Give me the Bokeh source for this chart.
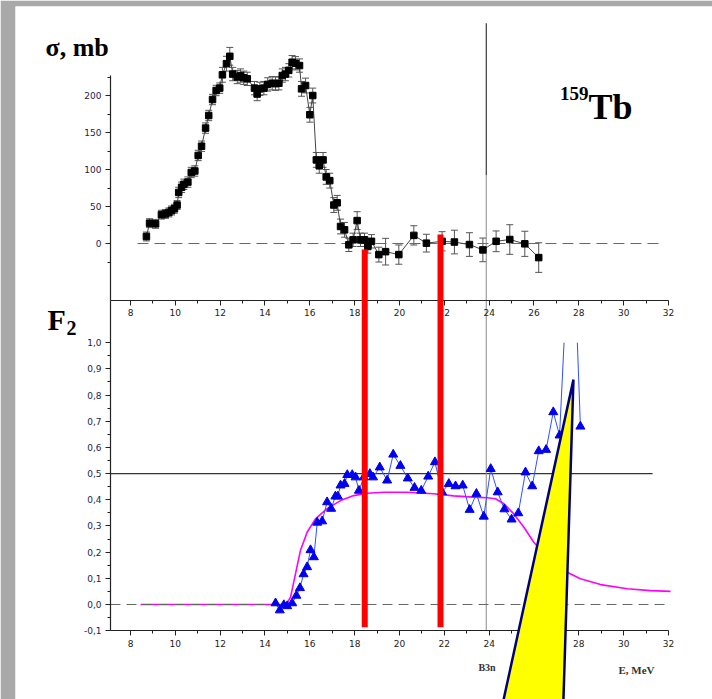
from bokeh.plotting import figure
from bokeh.models import (Range1d, LinearAxis, FixedTicker, CustomJSTickFormatter, Label,
                          ColumnDataSource, Whisker, TeeHead)
from bokeh.embed import file_html
from bokeh.resources import INLINE

# ---------------- data ----------------
# photoneutron cross section sigma(gamma, n), mb
sig_x = [8.71, 8.85, 9.12, 9.38, 9.56, 9.71, 9.83, 9.96, 10.08, 10.15, 10.28, 10.38, 10.56,
         10.71, 10.87, 11.02, 11.17, 11.35, 11.49, 11.66, 11.82, 11.98, 12.10, 12.28, 12.43,
         12.56, 12.76, 12.91, 13.05, 13.21, 13.53, 13.65, 13.77, 13.95, 14.12, 14.32, 14.47,
         14.62, 14.77, 14.91, 15.06, 15.21, 15.36, 15.54, 15.63, 15.81, 16.00, 16.13, 16.29,
         16.42, 16.59, 16.73, 16.89, 17.07, 17.22, 17.37, 17.55, 17.74, 17.93, 18.11, 18.26,
         18.44, 18.59, 18.75, 19.08, 19.38, 19.97, 20.64, 21.20, 21.90, 22.45, 23.12, 23.72,
         24.31, 24.92, 25.59, 26.21]
sig_y = [9.5, 27.5, 26.6, 39, 40, 42, 44.6, 47, 52, 69, 76, 80, 83,
         96, 98, 119, 131.5, 156, 173, 194.6, 206.8, 210, 228, 243, 253,
         229, 225, 227, 224, 222.5, 210, 202, 209, 210, 215, 216.6, 216,
         216.6, 227, 229, 234, 245, 243.6, 240.5, 209, 213.5, 174, 200, 113,
         105, 113, 90, 85, 52, 55, 23, 18.5, -1.8, 5, 31, 5,
         5, -4, 3, -15, -11, -15, 11, 0.5, 3, 2, -1.4, -8.6,
         3, 5.4, -0.4, -19]
sig_err = [6, 6, 6, 6, 6, 6, 6, 6, 6, 7, 7, 7, 7,
           7, 7, 7, 7, 7, 7, 7, 7, 7, 10, 10, 12,
           9, 9, 9, 9, 9, 9, 9, 9, 9, 9, 9, 9,
           9, 9, 9, 9, 9, 9, 9, 10, 10, 10, 10, 10,
           10, 10, 10, 10, 10, 10, 10, 10, 9, 9, 12, 9,
           9, 9, 9, 10, 18, 13, 13, 12, 13, 16, 16, 16,
           14, 20, 17, 20]

# F2 ratio (triangles)
f2_x = [14.47, 14.66, 14.84, 14.99, 15.21, 15.40, 15.56, 15.72, 15.88, 16.03, 16.18, 16.33,
        16.55, 16.77, 16.95, 17.14, 17.25, 17.37, 17.55, 17.67, 17.89, 18.04, 18.19, 18.41,
        18.68, 18.82, 19.12, 19.45, 19.72, 20.04, 20.37, 20.67, 20.97, 21.28, 21.58, 21.90,
        22.20, 22.50, 22.82, 23.13, 23.43, 23.76, 24.07, 24.38, 24.68, 25.00, 25.30, 25.62,
        25.92, 26.21, 26.54, 26.86, 27.14, 27.68, 28.07]
f2_y = [0.005, -0.022, -0.002, -0.006, 0.005, 0.034, 0.063, 0.116, 0.143, 0.208, 0.181, 0.313,
        0.318, 0.391, 0.366, 0.413, 0.413, 0.455, 0.461, 0.495, 0.495, 0.486, 0.435, 0.486,
        0.499, 0.486, 0.524, 0.474, 0.573, 0.530, 0.482, 0.446, 0.435, 0.489, 0.544, 0.429,
        0.461, 0.452, 0.455, 0.362, 0.423, 0.336, 0.518, 0.429, 0.364, 0.325, 0.349, 0.505,
        0.452, 0.586, 0.591, 0.735, 0.646, 1.60, 0.680]

# calculated F2 (magenta curve)
calc_x = [8.45, 14.95, 15.14, 15.36, 15.58, 15.88, 16.25, 16.77, 17.37, 17.96, 18.56, 19.30,
          20.34, 21.53, 22.42, 23.30, 23.91, 24.28, 24.66, 25.10, 25.55, 25.99, 26.44, 26.88,
          27.48, 28.07, 28.97, 30.16, 31.20, 32.09]
calc_y = [0.0, 0.0, 0.028, 0.117, 0.206, 0.276, 0.327, 0.366, 0.397, 0.416, 0.425, 0.429,
          0.429, 0.423, 0.415, 0.410, 0.408, 0.404, 0.385, 0.346, 0.295, 0.238, 0.194, 0.158,
          0.123, 0.098, 0.076, 0.060, 0.053, 0.050]

x_major = [8, 10, 12, 14, 16, 18, 20, 22, 24, 26, 28, 30, 32]
x_minor = [9, 11, 13, 15, 17, 19, 21, 23, 25, 27, 29, 31]
sig_major = [0, 50, 100, 150, 200]
sig_minor = [-25, 25, 75, 125, 175, 225]
f2_major = [-0.1, 0.0, 0.1, 0.2, 0.3, 0.4, 0.5, 0.6, 0.7, 0.8, 0.9, 1.0]
f2_minor = [-0.05, 0.05, 0.15, 0.25, 0.35, 0.45, 0.55, 0.65, 0.75, 0.85, 0.95]

# reference marks
b3n_energy = 23.87               # B3n threshold line
red_energies = [18.45, 21.83]    # red markers
red_tops = [1.356, 1.413]
red_bottom = -0.087
f2_clip = 1.0                    # upper limit of the F2 panel data
pointer_x = [24.55, 27.76, 27.30]
pointer_y = [-0.40, 0.859, -0.40]

# ---------------- layout constants ----------------
axis_x = 7.108          # E where the vertical axes stand
xaxis_end = 32.0
top_axis_f2 = 1.1612    # F2 level of the upper panel's bottom axis
sig_axis_bounds = (-77, 227)

p = figure(width=712, height=699, output_backend="svg", toolbar_location=None,
           x_axis_type=None, y_axis_type=None,
           x_range=Range1d(2.870, 33.963), y_range=Range1d(-0.3629, 2.2842),
           min_border_left=15, min_border_right=0, min_border_top=6, min_border_bottom=0,
           border_fill_color="#a9a9a9", background_fill_color="white",
           outline_line_color=None)
p.extra_y_ranges = {"sigma": Range1d(-616.2, 320.3)}


def style(ax, color):
    ax.axis_line_color = "#222222"
    ax.axis_line_width = 1.2
    ax.major_tick_line_color = "#222222"
    ax.minor_tick_line_color = "#222222"
    ax.major_tick_out = 5
    ax.major_tick_in = 0
    ax.minor_tick_out = 3
    ax.minor_tick_in = 0
    ax.major_label_text_font = "DejaVu Sans"
    ax.major_label_text_font_size = "9px"
    ax.major_label_text_color = color
    ax.major_label_standoff = 4


sig_axis = LinearAxis(y_range_name="sigma", fixed_location=axis_x, bounds=sig_axis_bounds,
                      ticker=FixedTicker(ticks=sig_major, minor_ticks=sig_minor))
style(sig_axis, "#1c1c4c")
p.add_layout(sig_axis, "left")

f2_axis = LinearAxis(fixed_location=axis_x, bounds=(-0.1, top_axis_f2),
                     ticker=FixedTicker(ticks=f2_major, minor_ticks=f2_minor),
                     formatter=CustomJSTickFormatter(code="return tick.toFixed(1).replace('.', ',');"))
style(f2_axis, "#1c1c4c")
p.add_layout(f2_axis, "left")

top_x = LinearAxis(fixed_location=top_axis_f2, bounds=(axis_x, xaxis_end),
                   ticker=FixedTicker(ticks=x_major, minor_ticks=x_minor))
style(top_x, "#222222")
p.add_layout(top_x, "below")

bot_x = LinearAxis(fixed_location=-0.1, bounds=(axis_x, xaxis_end),
                   ticker=FixedTicker(ticks=x_major, minor_ticks=x_minor))
style(bot_x, "#222222")
p.add_layout(bot_x, "below")

# ---------------- reference lines ----------------
p.segment(x0=[8.31], y0=[0], x1=[31.6], y1=[0], y_range_name="sigma",
          line_color="#666666", line_width=1, line_dash="11 6")
p.segment(x0=[axis_x], y0=[0.5], x1=[31.29], y1=[0.5], line_color="#333333", line_width=1.2)
p.segment(x0=[b3n_energy, b3n_energy], y0=[-0.1, 1.64], x1=[b3n_energy, b3n_energy],
          y1=[1.64, 2.22], line_color=["#8a8a8a", "#111111"], line_width=1)

# ---------------- upper panel: sigma ----------------
src = ColumnDataSource(dict(x=sig_x, y=sig_y,
                            up=[a + b for a, b in zip(sig_y, sig_err)],
                            lo=[a - b for a, b in zip(sig_y, sig_err)]))
p.line("x", "y", source=src, y_range_name="sigma", line_color="#444444", line_width=1)
wh = Whisker(source=src, base="x", upper="up", lower="lo", dimension="height",
             y_range_name="sigma", line_color="#555555", line_width=1,
             upper_head=TeeHead(size=7, line_color="#555555", line_width=1),
             lower_head=TeeHead(size=7, line_color="#555555", line_width=1))
p.add_layout(wh)
p.scatter("x", "y", source=src, y_range_name="sigma", marker="square", size=6.5,
          fill_color="black", line_color="black")

# ---------------- lower panel: F2 ----------------
p.line(calc_x, calc_y, line_color="#ff00ff", line_width=1.6)
p.segment(x0=[axis_x], y0=[0], x1=[31.87], y1=[0], line_color="#666666", line_width=1,
          line_dash="10 6")


def clip_polyline(xs, ys, ymax):
    """Split a polyline where it leaves the panel (y > ymax)."""
    pieces, cur = [], []
    for i in range(len(xs)):
        x, y = xs[i], ys[i]
        if i > 0:
            x0, y0 = xs[i - 1], ys[i - 1]
            if (y0 <= ymax) != (y <= ymax):
                xc = x0 + (x - x0) * (ymax - y0) / (y - y0)
                if y0 <= ymax:
                    cur.append((xc, ymax))
                    pieces.append(cur)
                    cur = []
                else:
                    cur = [(xc, ymax)]
        if y <= ymax:
            cur.append((x, y))
    if cur:
        pieces.append(cur)
    return [[q[0] for q in c] for c in pieces], [[q[1] for q in c] for c in pieces]


mx, my = clip_polyline(f2_x, f2_y, f2_clip)
p.multi_line(mx, my, line_color="#3050ff", line_width=1)
vis = [(x, y) for x, y in zip(f2_x, f2_y) if y <= f2_clip]
p.scatter([v[0] for v in vis], [v[1] for v in vis], marker="triangle", size=9,
          fill_color="#0000ee", line_color="#0000ee")

# red markers and pointer on top
p.segment(x0=red_energies, y0=[red_bottom] * 2, x1=red_energies, y1=red_tops,
          line_color="#ff0000", line_width=6, level="overlay")
p.patch(pointer_x, pointer_y, fill_color="#ffff00", line_color="#00007a", line_width=2.5,
        level="overlay")

# ---------------- texts ----------------
serif = "Liberation Serif"
p.add_layout(Label(x=4.208, y=2.127, text="σ, mb", text_font=serif, text_font_size="26px",
                   text_font_style="bold", text_color="black", text_baseline="alphabetic"))
p.add_layout(Label(x=28.43, y=1.952, text="159", text_font=serif, text_font_size="19px",
                   text_font_style="bold", text_color="black", text_align="right",
                   text_baseline="alphabetic"))
p.add_layout(Label(x=28.43, y=1.902, text="Tb", text_font=serif, text_font_size="36px",
                   text_font_style="bold", text_color="black", text_baseline="alphabetic"))
p.add_layout(Label(x=4.297, y=1.0886, text="F", text_font=serif, text_font_size="30px",
                   text_font_style="bold", text_color="black", text_baseline="alphabetic"))
p.add_layout(Label(x=5.145, y=1.058, text="2", text_font=serif, text_font_size="20px",
                   text_font_style="bold", text_color="black", text_baseline="alphabetic"))
p.add_layout(Label(x=23.52, y=-0.2406, text="B3n", text_font=serif, text_font_size="10px",
                   text_font_style="bold", text_color="#333333", text_baseline="alphabetic"))
p.add_layout(Label(x=29.77, y=-0.2521, text="E,  MeV", text_font=serif, text_font_size="11px",
                   text_font_style="bold", text_color="#333333", text_baseline="alphabetic"))

open("out.html", "w").write(file_html(p, INLINE))
